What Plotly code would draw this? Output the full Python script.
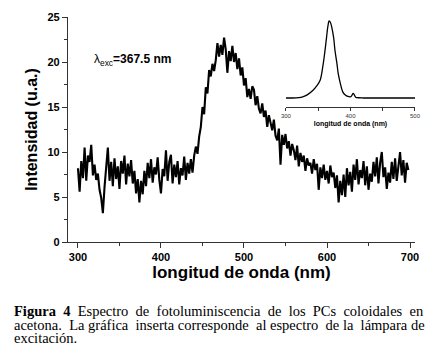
import plotly.graph_objects as go

# Main photoluminescence spectrum (2 nm steps, 300-698 nm)
wavelength = list(range(300, 700, 2))
intensity = [
    8.2, 5.6, 9.0, 7.1, 10.5, 6.8, 9.6, 8.9, 10.8, 7.4,
    8.6, 6.9, 7.6, 5.8, 4.9, 3.2, 6.1, 8.4, 10.5, 6.8,
    8.9, 6.2, 9.3, 7.0, 8.4, 5.9, 9.0, 7.6, 9.6, 6.4,
    8.7, 7.3, 9.1, 6.5, 7.9, 5.4, 7.0, 4.4, 6.8, 5.3,
    7.9, 6.2, 8.8, 7.1, 9.2, 6.6, 8.3, 7.5, 9.4, 6.9,
    5.4, 8.1, 7.3, 10.2, 6.8, 8.9, 9.7, 6.5, 8.6, 7.2,
    9.0, 6.4, 8.2, 7.4, 9.5, 6.9, 8.8, 7.6, 9.2, 7.7,
    9.6, 10.6, 9.8, 11.7, 12.8, 15.0, 14.2, 17.2, 16.5, 19.1,
    18.4, 19.8, 19.0, 20.2, 22.1, 20.6, 21.9, 20.8, 22.7, 21.4,
    18.8, 21.2, 20.1, 21.8, 20.0, 21.0, 19.2, 20.4, 18.5, 19.4,
    17.4, 18.2, 16.1, 17.0, 15.9, 17.3, 16.9, 15.2, 16.2, 14.8,
    14.3, 15.4, 13.9, 14.6, 12.8, 14.1, 13.2, 12.4, 13.6, 11.8,
    11.3, 12.6, 8.6, 11.9, 10.8, 12.0, 10.4, 11.2, 9.6, 10.9,
    10.2, 9.1, 10.7, 8.4, 9.9, 8.9, 9.6, 7.9, 9.3, 8.5,
    8.8, 7.6, 9.2, 8.0, 8.7, 5.8, 8.3, 7.1, 8.6, 6.9,
    7.9, 6.5, 8.5, 7.2, 7.7, 6.0, 7.4, 4.4, 6.8, 5.2,
    7.5, 5.0, 8.2, 6.3, 7.8, 5.6, 8.6, 6.9, 9.2, 6.4,
    8.0, 7.1, 9.0, 6.3, 8.4, 5.8, 7.6, 6.7, 8.9, 7.3,
    9.4, 6.5, 8.8, 10.0, 7.2, 8.3, 5.9, 7.7, 6.6, 8.9,
    7.0, 9.3, 6.8, 8.5, 10.0, 7.4, 9.1, 6.6, 8.8, 8.0,
]

# Inset: excitation lamp spectrum (normalised)
lamp_wl = [300, 310, 320, 326, 333, 342, 348, 353, 357, 360, 363, 365, 367, 369, 371,
           374, 376, 379, 381, 384, 388, 392, 396, 400, 402, 404, 406, 408, 412, 420,
           440, 460, 480, 500]
lamp_int = [0.0, 0.0, 0.005, 0.015, 0.04, 0.10, 0.16, 0.23, 0.40, 0.58, 0.79, 0.93, 1.0, 0.98, 0.92,
            0.78, 0.62, 0.45, 0.32, 0.20, 0.08, 0.04, 0.02, 0.015, 0.03, 0.06, 0.04, 0.01, 0.003, 0.0,
            0.0, 0.0, 0.0, 0.0]

x_ticks = [300, 400, 500, 600, 700]
y_ticks = [0, 5, 10, 15, 20, 25]
inset_ticks = [300, 400, 500]

NB = "\u00a0"
caption_l1_words = ["<b>Figura", "4</b>", "Espectro", "de", "fotoluminiscencia", "de", "los",
                    "PCs", "coloidales", "en"]
caption_l2_words = ["acetona.", "La", "gráfica", "inserta", "corresponde", "al", "espectro",
                    "de", "la", "lámpara", "de"]
caption_l1 = (" " + NB).join(caption_l1_words)
caption_l2 = caption_l2_words[0]
for i, w in enumerate(caption_l2_words[1:]):
    caption_l2 += (" " + NB if i % 2 == 0 else " ") + w
caption_l3 = "excitación."

fig = go.Figure()
fig.add_trace(go.Scatter(x=wavelength, y=intensity, mode="lines",
                         line=dict(color="black", width=2.1), showlegend=False))
fig.add_trace(go.Scatter(x=lamp_wl, y=lamp_int, mode="lines", xaxis="x2", yaxis="y2",
                         line=dict(color="black", width=1.3, shape="spline"), showlegend=False))

axis_common = dict(showline=True, linecolor="#333", linewidth=1.3, ticks="outside",
                   ticklen=5, tickwidth=1.2, tickcolor="#333", showgrid=False, zeroline=False,
                   automargin=False,
                   tickfont=dict(family="Liberation Sans", size=11, color="black", weight="bold"))

cap_font = dict(family="Liberation Serif", size=14.5, color="black")
cap_x = -0.162

fig.update_layout(
    width=438, height=360,
    margin=dict(l=68, r=23, t=17, b=118),
    paper_bgcolor="white", plot_bgcolor="white",
    xaxis=dict(range=[288, 706], tickvals=x_ticks,
               minor=dict(tickvals=[350, 450, 550, 650], ticklen=3, tickcolor="#333", ticks="outside"),
               title=dict(text="longitud de onda (nm)", standoff=2,
                          font=dict(family="Liberation Sans", size=17, color="black", weight="bold")),
               **axis_common),
    yaxis=dict(range=[0, 25], tickvals=y_ticks,
               minor=dict(tickvals=[2.5, 7.5, 12.5, 17.5, 22.5], ticklen=3, tickcolor="#333", ticks="outside"),
               title=dict(text="Intensidad (u.a.)", standoff=5,
                          font=dict(family="Liberation Sans", size=16, color="black", weight="bold")),
               **axis_common),
    xaxis2=dict(domain=[0.628, 1.0], anchor="y2", range=[300, 500], tickvals=inset_ticks,
                showline=True, linecolor="#333", linewidth=1, ticks="outside", ticklen=3,
                tickwidth=0.8, tickcolor="#333", showgrid=False, zeroline=False, automargin=False,
                minor=dict(tickvals=[350, 450], ticklen=3, ticks="outside", tickcolor="#333"),
                tickfont=dict(family="Liberation Sans", size=6, color="#333"),
                title=dict(text="longitud de onda (nm)", standoff=2,
                           font=dict(family="Liberation Sans", size=7, color="black", weight="bold"))),
    yaxis2=dict(domain=[0.6, 1.0], anchor="x2", range=[-0.117, 1.052], visible=False),
    annotations=[
        dict(text="λ<sub>exc</sub><b>=367.5 nm</b>", x=0.07, y=0.81, xref="paper", yref="paper",
             xanchor="left", yanchor="middle", showarrow=False,
             font=dict(family="Liberation Sans", size=12, color="black")),
        dict(text=caption_l1, x=cap_x, y=-0.307, xref="paper", yref="paper",
             xanchor="left", yanchor="middle", showarrow=False, font=cap_font),
        dict(text=caption_l2, x=cap_x, y=-0.368, xref="paper", yref="paper",
             xanchor="left", yanchor="middle", showarrow=False, font=cap_font),
        dict(text=caption_l3, x=cap_x, y=-0.428, xref="paper", yref="paper",
             xanchor="left", yanchor="middle", showarrow=False, font=cap_font),
    ],
)

fig.write_html("out.html", config={"displayModeBar": False},
               post_script="document.body.style.margin='0';")
